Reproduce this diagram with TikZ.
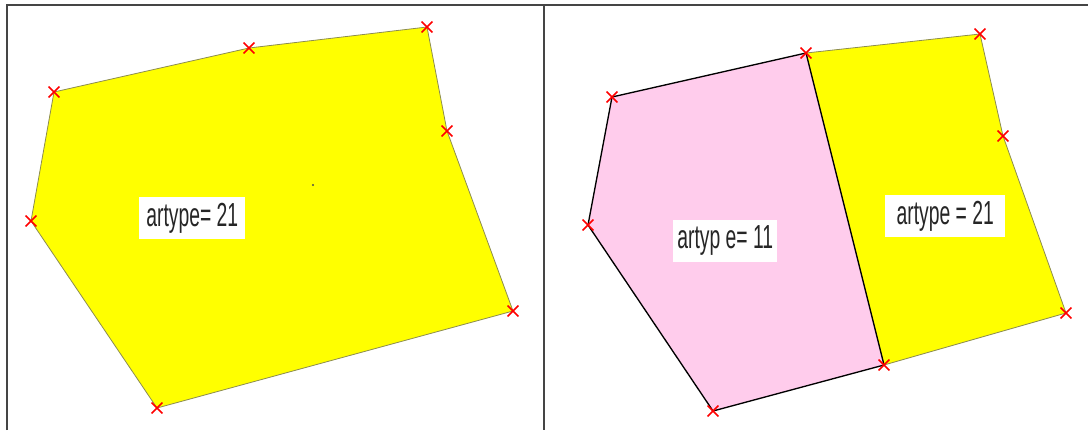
\documentclass[tikz,border=0pt]{standalone}
\usepackage{fontspec}
\newfontfamily\areafont[FakeStretch=0.58]{Liberation Sans}
\usetikzlibrary{shapes.misc}
\definecolor{areayellow}{HTML}{FFFF00}
\definecolor{areapink}{HTML}{FFCCEC}
\definecolor{edgegray}{HTML}{8C8C50}
\definecolor{panelline}{HTML}{454545}

\begin{document}
\begin{tikzpicture}[x=0.75pt, y=-0.75pt,
  vtx/.style={cross out, draw=red, line width=1.1pt, minimum size=7pt, inner sep=0pt},
  lbl/.style={fill=white, anchor=north west, minimum width=79.5pt, inner xsep=1.5pt, inner ysep=0pt, minimum height=31pt, font=\areafont\fontsize{25}{28}\selectfont, text=black!85},
  area/.style={draw=edgegray, line width=0.6pt, fill=areayellow},
  cut/.style={draw=black, line width=1pt},
  panel/.style={draw=panelline, line width=1.5pt}
]
  \useasboundingbox (0,0) rectangle (1088,430);

  % frame of the two panels
  \draw[panel] (7,430) -- (7,5) -- (1088,5);
  \draw[panel] (544,5) -- (544,430);

  % left panel: one area
  \coordinate (a1) at (54,92);
  \coordinate (a2) at (249,48);
  \coordinate (a3) at (427,27);
  \coordinate (a4) at (447,131);
  \coordinate (a5) at (513,311);
  \coordinate (a6) at (157,408);
  \coordinate (a7) at (31,221);
  \draw[area] (a1) -- (a2) -- (a3) -- (a4) -- (a5) -- (a6) -- (a7) -- cycle;
  \fill[black!70] (313,185) circle (0.8pt);
  \node[lbl] (l21) at (139,197) {artype= 21};

  % right panel: area split in two
  \coordinate (b1) at (612,97);
  \coordinate (b2) at (806,53);
  \coordinate (b3) at (980,34);
  \coordinate (b4) at (1003,136);
  \coordinate (b5) at (1066,313);
  \coordinate (b6) at (884,365);
  \coordinate (b7) at (713,411);
  \coordinate (b8) at (588,225);
  \draw[area] (b2) -- (b3) -- (b4) -- (b5) -- (b6) -- cycle;
  \fill[areapink] (b1) -- (b2) -- (b6) -- (b7) -- (b8) -- cycle;
  \draw[cut] (b6) -- (b7) -- (b8) -- (b1) -- (b2) -- (b6);
  \node[lbl, minimum width=78pt] (l11) at (673,220) {artyp e= 11};
  \node[lbl, minimum width=90pt] (r21) at (885,195) {artype = 21};

  % vertex marks
  \foreach \v in {a1,a2,a3,a4,a5,a6,a7,b1,b2,b3,b4,b5,b6,b7,b8}
    \node[vtx] (m\v) at (\v) {};
\end{tikzpicture}
\end{document}
